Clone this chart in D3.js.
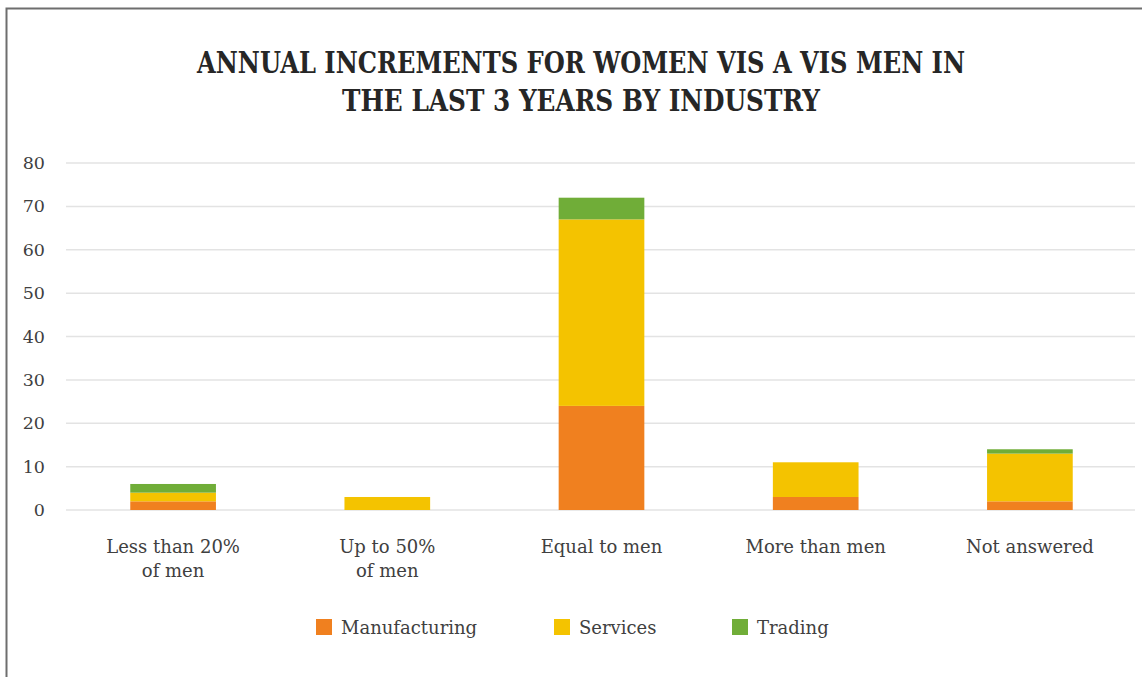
<!DOCTYPE html>
<html>
<head>
<meta charset="utf-8">
<script src="https://cdn.jsdelivr.net/npm/d3@7"></script>
<style>
  body { margin: 0; background: #fff; }
  text { font-family: "DejaVu Serif", "Liberation Serif", serif; }
</style>
</head>
<body>
<div id="chart"></div>
<script>
// data
var categories = ["Less than 20%|of men", "Up to 50%|of men", "Equal to men", "More than men", "Not answered"];
var seriesNames = ["Manufacturing", "Services", "Trading"];
var manufacturing = [2, 0, 24, 3, 2];
var services = [2, 3, 43, 8, 11];
var trading = [2, 0, 5, 0, 1];
var yTicks = [0, 10, 20, 30, 40, 50, 60, 70, 80];
var colors = ["#f0801f", "#f4c300", "#70ad38"];

var W = 1142, H = 677;
var margin = {top: 163, right: 5, bottom: 167, left: 66};
var width = W - margin.left - margin.right;
var height = H - margin.top - margin.bottom;

var svg = d3.select("#chart").append("svg").attr("width", W).attr("height", H);

// outer frame
svg.append("rect").attr("x", 6.5).attr("y", 8.5).attr("width", W + 10).attr("height", H + 10)
  .attr("fill", "none").attr("stroke", "#6e6e6e").attr("stroke-width", 2);

// title
var title = svg.append("g").attr("fill", "#262626").attr("font-weight", "bold").attr("font-size", 29)
  .attr("font-family", "Liberation Serif, serif");
title.append("text").attr("x", 581).attr("y", 73).attr("text-anchor", "middle")
  .attr("textLength", 768).attr("lengthAdjust", "spacingAndGlyphs")
  .text("ANNUAL INCREMENTS FOR WOMEN VIS A VIS MEN IN");
title.append("text").attr("x", 581).attr("y", 111).attr("text-anchor", "middle")
  .attr("textLength", 478).attr("lengthAdjust", "spacingAndGlyphs")
  .text("THE LAST 3 YEARS BY INDUSTRY");

var g = svg.append("g").attr("transform", "translate(" + margin.left + "," + margin.top + ")");

var x = d3.scaleBand().domain(categories).range([0, 1071]).paddingInner(0.6).paddingOuter(0.3);
var y = d3.scaleLinear().domain([0, 80]).range([height, 0]);

// gridlines
g.append("g").selectAll("line").data(yTicks).enter().append("line")
  .attr("x1", 0).attr("x2", 1069)
  .attr("y1", function(d) { return y(d); }).attr("y2", function(d) { return y(d); })
  .attr("stroke", "#e3e3e3").attr("stroke-width", 1.5);

// y axis labels
var yAxis = g.append("g").attr("transform", "translate(-21,0)")
  .call(d3.axisLeft(y).tickValues(yTicks).tickSize(0).tickPadding(0));
yAxis.select(".domain").remove();
yAxis.selectAll("text").attr("font-size", 17.5).attr("fill", "#404040")
  .attr("font-family", "DejaVu Serif, serif");

// stacked bars
var rows = categories.map(function(c, i) {
  return {cat: c, Manufacturing: manufacturing[i], Services: services[i], Trading: trading[i]};
});
var stack = d3.stack().keys(seriesNames)(rows);

g.selectAll(".layer").data(stack).enter().append("g")
  .attr("fill", function(d, i) { return colors[i]; })
  .selectAll("rect").data(function(d) { return d; }).enter().append("rect")
  .attr("x", function(d) { return x(d.data.cat); })
  .attr("width", x.bandwidth())
  .attr("y", function(d) { return y(d[1]); })
  .attr("height", function(d) { return y(d[0]) - y(d[1]); });

// category labels
var xl = g.append("g").attr("font-size", 18).attr("fill", "#404040").attr("text-anchor", "middle");
categories.forEach(function(c) {
  var t = xl.append("text").attr("x", x(c) + x.bandwidth() / 2).attr("y", height + 43);
  c.split("|").forEach(function(part, j) {
    t.append("tspan").attr("x", x(c) + x.bandwidth() / 2).attr("dy", j ? 24 : 0).text(part);
  });
});

// legend
var legendX = [316, 554, 732];
var lg = svg.append("g");
seriesNames.forEach(function(n, i) {
  lg.append("rect").attr("x", legendX[i]).attr("y", 619).attr("width", 16).attr("height", 16).attr("fill", colors[i]);
  lg.append("text").attr("x", legendX[i] + 25).attr("y", 634).attr("font-size", 18)
    .attr("fill", "#404040").text(n);
});
</script>
</body>
</html>
